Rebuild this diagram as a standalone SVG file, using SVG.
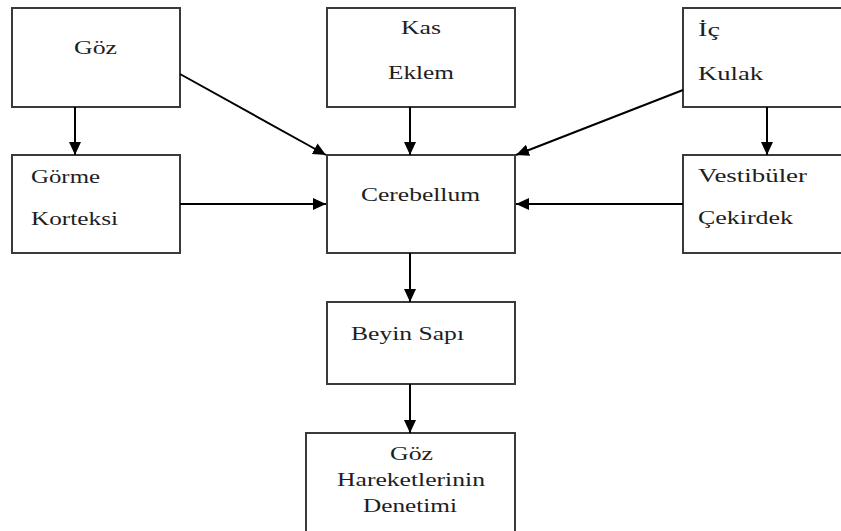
<svg xmlns="http://www.w3.org/2000/svg" width="841" height="531" viewBox="0 0 841 531">
<defs>
<marker id="ah" markerUnits="userSpaceOnUse" markerWidth="14" markerHeight="12" refX="13" refY="6" orient="auto">
<path d="M0,0 L13,6 L0,12 Z" fill="#000"/>
</marker>
<style>
.box{fill:#fff;stroke:#3a3a3a;stroke-width:2}
.t{font-family:"Liberation Serif","Times New Roman",serif;font-size:19px;fill:#1e1e1e}
.c{stroke:#000;stroke-width:2;fill:none;marker-end:url(#ah)}
</style>
</defs>
<rect width="841" height="531" fill="#fff"/>
<g id="goz"><rect class="box" x="12" y="8" width="168" height="99"/><text class="t" x="74" y="54" textLength="43" lengthAdjust="spacingAndGlyphs">Göz</text></g>
<g id="kas"><rect class="box" x="327" y="8" width="188" height="99"/><text class="t" x="401" y="34" textLength="40" lengthAdjust="spacingAndGlyphs">Kas</text><text class="t" x="388" y="79" textLength="66" lengthAdjust="spacingAndGlyphs">Eklem</text></g>
<g id="ickulak"><rect class="box" x="683" y="8" width="170" height="99"/><text class="t" x="698" y="36" textLength="22" lengthAdjust="spacingAndGlyphs">İç</text><text class="t" x="698" y="80" textLength="65" lengthAdjust="spacingAndGlyphs">Kulak</text></g>
<g id="gorme"><rect class="box" x="12" y="155" width="168" height="98"/><text class="t" x="31" y="183" textLength="69" lengthAdjust="spacingAndGlyphs">Görme</text><text class="t" x="31" y="225" textLength="87" lengthAdjust="spacingAndGlyphs">Korteksi</text></g>
<g id="cerebellum"><rect class="box" x="327" y="155" width="188" height="98"/><text class="t" x="361" y="201" textLength="119" lengthAdjust="spacingAndGlyphs">Cerebellum</text></g>
<g id="vestibuler"><rect class="box" x="683" y="155" width="170" height="98"/><text class="t" x="698" y="182" textLength="109" lengthAdjust="spacingAndGlyphs">Vestibüler</text><text class="t" x="698" y="224" textLength="95" lengthAdjust="spacingAndGlyphs">Çekirdek</text></g>
<g id="beyinsapi"><rect class="box" x="327" y="302" width="188" height="82"/><text class="t" x="351" y="340" textLength="113" lengthAdjust="spacingAndGlyphs">Beyin Sapı</text></g>
<g id="denetim"><rect class="box" x="306" y="433" width="209" height="110"/><text class="t" x="390" y="460" textLength="43" lengthAdjust="spacingAndGlyphs">Göz</text><text class="t" x="337" y="486" textLength="148" lengthAdjust="spacingAndGlyphs">Hareketlerinin</text><text class="t" x="363" y="512" textLength="94" lengthAdjust="spacingAndGlyphs">Denetimi</text></g>
<g id="connectors">
<line class="c" x1="75" y1="107" x2="75" y2="155"/>
<line class="c" x1="180" y1="74" x2="326" y2="155"/>
<line class="c" x1="180" y1="204" x2="326" y2="204"/>
<line class="c" x1="410" y1="107" x2="410" y2="155"/>
<line class="c" x1="683" y1="90" x2="516" y2="155"/>
<line class="c" x1="767" y1="107" x2="767" y2="155"/>
<line class="c" x1="683" y1="204" x2="516" y2="204"/>
<line class="c" x1="410" y1="253" x2="410" y2="302"/>
<line class="c" x1="410" y1="384" x2="410" y2="433"/>
</g>
</svg>
